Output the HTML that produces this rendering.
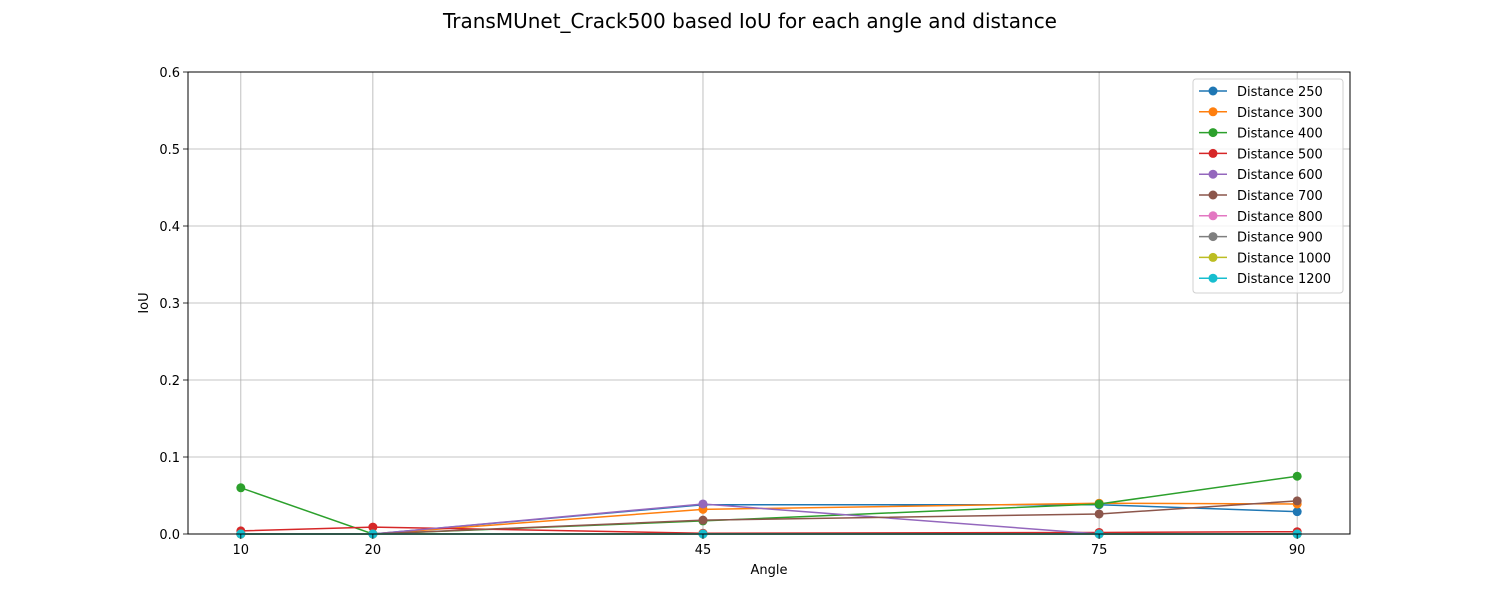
<!DOCTYPE html>
<html><head><meta charset="utf-8"><style>
body{margin:0;background:#fff;font-family:"DejaVu Sans","Liberation Sans",sans-serif;}
svg text{font-family:"DejaVu Sans","Liberation Sans",sans-serif;}
</style></head><body>
<svg id="chart" width="1500" height="600" xmlns="http://www.w3.org/2000/svg">
<text x="750" y="28" font-size="20" text-anchor="middle">TransMUnet_Crack500 based IoU for each angle and distance</text>
<g id="grid"></g><g id="series"></g><g id="axes"></g><g id="legend"></g>
</svg>
<script>
const angles=[10,20,45,75,90];
const names=["Distance 250","Distance 300","Distance 400","Distance 500","Distance 600","Distance 700","Distance 800","Distance 900","Distance 1000","Distance 1200"];
const colors=["#1f77b4","#ff7f0e","#2ca02c","#d62728","#9467bd","#8c564b","#e377c2","#7f7f7f","#bcbd22","#17becf"];
const d250=[0,0,0.038,0.038,0.029];
const d300=[0,0,0.032,0.040,0.039];
const d400=[0.060,0,0.017,0.039,0.075];
const d500=[0.004,0.009,0.001,0.002,0.003];
const d600=[0,0,0.039,0,0];
const d700=[0,0,0.018,0.026,0.043];
const d800=[0,0,0,0,0];
const d900=[0,0,0,0,0];
const d1000=[0,0,0,0,0];
const d1200=[0,0,0,0,0];
const yTicks=[0,0.1,0.2,0.3,0.4,0.5,0.6];
const series=[d250,d300,d400,d500,d600,d700,d800,d900,d1000,d1200];
const L=188,R=1350,T=72,B=534,xmin=6,xmax=94,ymin=0,ymax=0.6;
const X=v=>L+(v-xmin)/(xmax-xmin)*(R-L);
const Y=v=>B-(v-ymin)/(ymax-ymin)*(B-T);
const NS="http://www.w3.org/2000/svg";
function mk(tag,attrs,parent){const e=document.createElementNS(NS,tag);for(const k in attrs)e.setAttribute(k,attrs[k]);parent.appendChild(e);return e;}
const grid=document.getElementById('grid'),axes=document.getElementById('axes'),sg=document.getElementById('series'),lg=document.getElementById('legend');
angles.forEach(a=>{
 const l=mk('line',{x1:X(a),x2:X(a),y1:T,y2:B,stroke:'#b0b0b0','stroke-width':0.8},grid);
 
 
 mk('line',{x1:X(a),x2:X(a),y1:B,y2:B+5,stroke:'#000','stroke-width':0.8},axes);
 const t=mk('text',{x:X(a),y:B+20,'font-size':13,'text-anchor':'middle'},axes);t.textContent=a;
 
 
});
yTicks.forEach(v=>{
 const l=mk('line',{x1:L,x2:R,y1:Y(v),y2:Y(v),stroke:'#b0b0b0','stroke-width':0.8},grid);
 
 
 mk('line',{x1:L-5,x2:L,y1:Y(v),y2:Y(v),stroke:'#000','stroke-width':0.8},axes);
 const t=mk('text',{x:L-8,y:Y(v)+5,'font-size':13,'text-anchor':'end'},axes);t.textContent=v.toFixed(1);
 
 
});
const fr=mk('rect',{x:L,y:T,width:R-L,height:B-T,fill:'none',stroke:'#000','stroke-width':1},axes);


const xt=mk('text',{x:(L+R)/2,y:574,'font-size':13,'text-anchor':'middle'},axes);xt.textContent='Angle';


const yt=mk('text',{x:148,y:(T+B)/2,'font-size':13,'text-anchor':'middle',transform:`rotate(-90 148 ${(T+B)/2})`},axes);yt.textContent='IoU';


series.forEach((s,i)=>{
 const g=mk('g',{},sg);
 
 
 mk('polyline',{points:s.map((v,j)=>X(angles[j])+','+Y(v)).join(' '),fill:'none',stroke:colors[i],'stroke-width':1.5},g);
 s.forEach((v,j)=>{const c=mk('circle',{cx:X(angles[j]),cy:Y(v),r:4.5,fill:colors[i]},g);
  
  });
});
const lb=mk('rect',{x:1193,y:79,width:150,height:214,rx:3,fill:'#fff','fill-opacity':0.8,stroke:'#d0d0d0'},lg);


names.forEach((n,i)=>{
 const y=91+i*20.8;
 const g=mk('g',{},lg);
 
 
 mk('line',{x1:1199,x2:1227,y1:y,y2:y,stroke:colors[i],'stroke-width':1.5},g);
 mk('circle',{cx:1213,cy:y,r:4.5,fill:colors[i]},g);
 const t=mk('text',{x:1237,y:y+5,'font-size':13},g);t.textContent=n;
});
</script>
</body></html>
